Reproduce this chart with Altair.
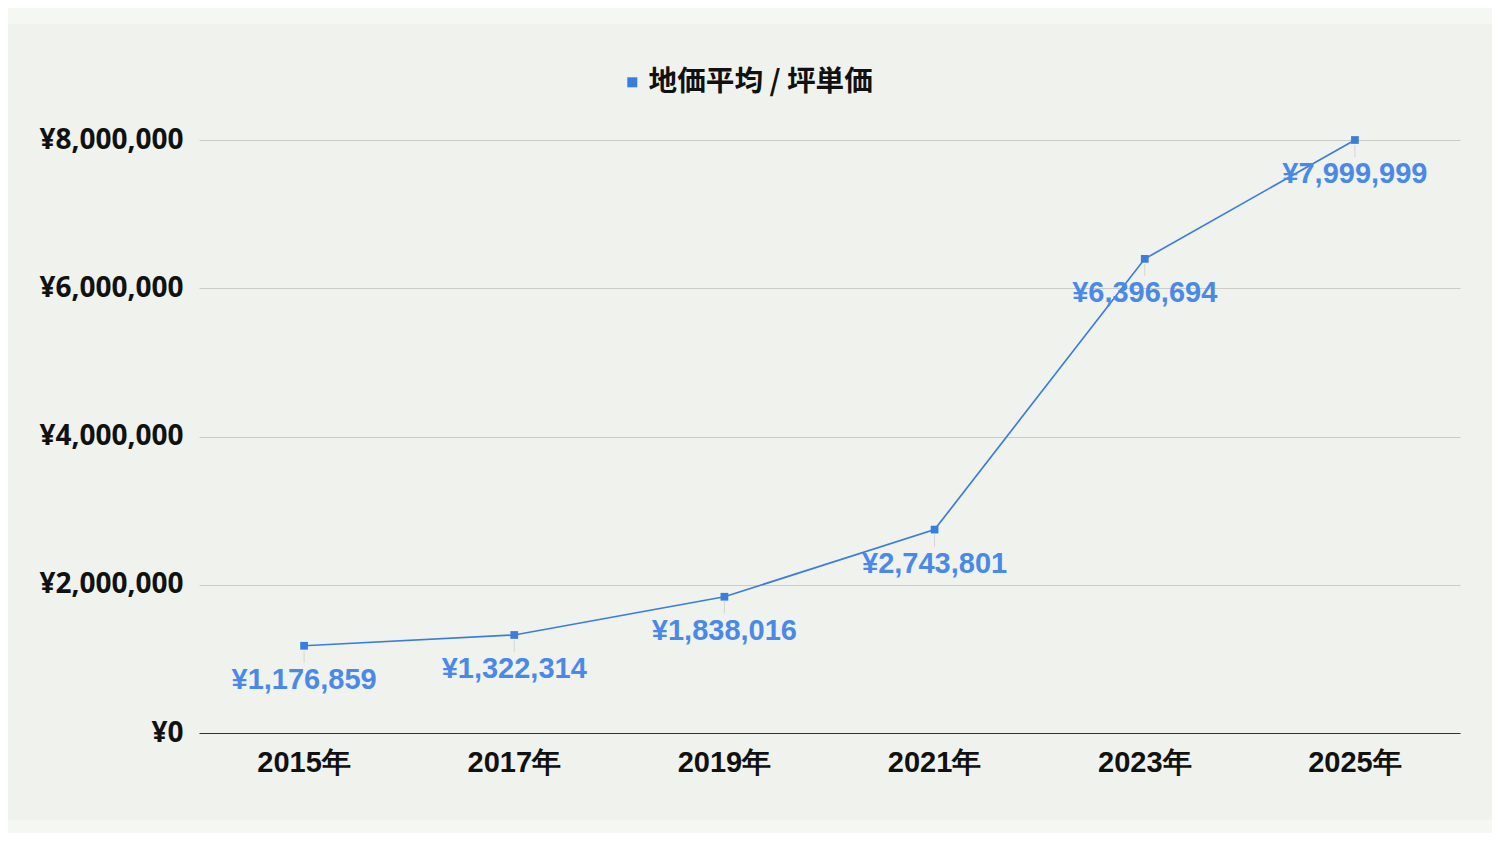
import altair as alt
import pandas as pd

years = ["2015年", "2017年", "2019年", "2021年", "2023年", "2025年"]
values = [1176859, 1322314, 1838016, 2743801, 6396694, 7999999]
series_name = "地価平均 / 坪単価"
y_ticks = [0, 2000000, 4000000, 6000000, 8000000]

LINE = "#3b7ddd"
TEXT = "#4a89e8"
INNER = "#f0f3ed"
OUTER = "#f5f7f2"

df = pd.DataFrame({"year": years, "value": values, "series": [series_name] * len(years)})

x_enc = alt.X("year:N", sort=years,
              scale=alt.Scale(paddingInner=0, paddingOuter=0),
              axis=alt.Axis(title=None, labelAngle=0, labelFont="Liberation Sans",
                            labelFontSize=29, labelFontWeight="bold", labelColor="#111111",
                            labelPadding=15, ticks=False, domainColor="#333333",
                            domainWidth=1, grid=False))
y_enc = alt.Y("value:Q", scale=alt.Scale(domain=[0, 8000000], nice=False),
              axis=alt.Axis(title=None, values=y_ticks,
                            labelExpr="'¥' + format(datum.value, ',')",
                            labelFont="Open Sans", labelFontSize=28, labelFontWeight="bold",
                            labelColor="#111111", labelPadding=16, ticks=False, domain=False,
                            grid=True, gridColor="#c9cdc5", gridWidth=1))

base = alt.Chart(df)

strip_df = pd.DataFrame({"k": [0]})
top_strip = alt.Chart(strip_df).mark_rect(color=OUTER).encode(
    x=alt.value(-200), x2=alt.value(1400), y=alt.value(-140), y2=alt.value(-116))
bottom_strip = alt.Chart(strip_df).mark_rect(color=OUTER).encode(
    x=alt.value(-200), x2=alt.value(1400), y=alt.value(680), y2=alt.value(720))

leaders = base.mark_rule(color="#d3d7cf", strokeWidth=1, yOffset=5, y2Offset=17).encode(
    x=x_enc, y=y_enc, y2="value:Q")

line = base.mark_line(strokeWidth=1.7, color=LINE).encode(x=x_enc, y=y_enc)

points = base.mark_square(size=60, opacity=1).encode(
    x=x_enc, y=y_enc,
    color=alt.Color("series:N",
                    scale=alt.Scale(domain=[series_name], range=[LINE]),
                    legend=alt.Legend(title=None, orient="none", legendX=419, legendY=-72,
                                      symbolType="square", symbolSize=100, symbolStrokeWidth=0,
                                      symbolOpacity=1, symbolFillColor=LINE,
                                      labelFont="Noto Sans CJK JP", labelFontSize=28.6,
                                      labelFontWeight="bold", labelColor="#111111",
                                      labelOffset=2, labelLimit=0, padding=0)))

labels = base.mark_text(dy=34, font="Liberation Sans", fontSize=29, fontWeight="bold",
                        color=TEXT).encode(
    x=x_enc, y=y_enc, text=alt.Text("label:N")).transform_calculate(
    label="'¥' + format(datum.value, ',')")

chart = alt.layer(top_strip, bottom_strip, leaders, line, points, labels).properties(
    width=1261, height=593,
    background=INNER,
    padding={"left": 191, "top": 132, "right": 32, "bottom": 100},
    autosize=alt.AutoSizeParams(type="none"),
).configure_view(stroke=None)

chart.save("out.html", embed_options={"renderer": "svg", "actions": False})
